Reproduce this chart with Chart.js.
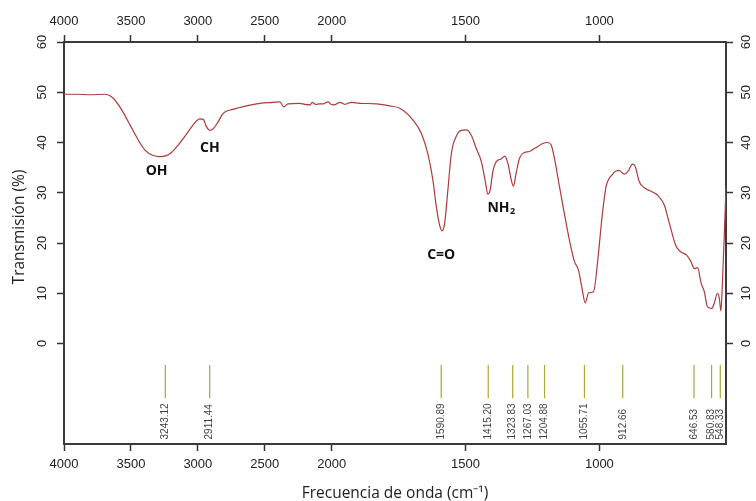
<!DOCTYPE html>
<html>
<head>
<meta charset="utf-8">
<script src="https://cdn.jsdelivr.net/npm/chart.js@4.4.1/dist/chart.umd.min.js"></script>
<style>
  html, body { margin: 0; padding: 0; background: #fff; }
  canvas { display: block; }
</style>
</head>
<body>
<canvas id="ftir" width="756" height="501"></canvas>
<script>
// FTIR spectrum, wavenumber (cm-1) and transmission (%)
var wavenumbers = [4000, 3900, 3800, 3694, 3632, 3569, 3507, 3445, 3395, 3333, 3284, 3234, 3197, 3147, 3084,
    3035, 2985, 2960, 2935, 2910, 2886, 2849, 2811, 2737, 2637, 2537, 2438, 2388, 2358, 2326, 2239, 2200,
    2160, 2147, 2120, 2090, 2060, 2028, 2005, 1989, 1970, 1951, 1926, 1895, 1833, 1784, 1746, 1697, 1665,
    1641, 1622, 1609, 1597, 1588, 1578, 1566, 1553, 1535, 1516, 1497, 1479, 1460, 1441, 1425, 1417, 1408,
    1398, 1385, 1367, 1354, 1342, 1329, 1321, 1311, 1298, 1280, 1261, 1249, 1230, 1212, 1193, 1180, 1168,
    1149, 1131, 1112, 1093, 1078, 1066, 1053, 1040, 1022, 1006, 990, 975, 965, 950, 944, 932, 925, 913,
    907, 894, 876, 866, 851, 832, 807, 782, 757, 745, 732, 714, 695, 674, 658, 645, 633, 620, 608, 596,
    580, 571, 559, 552, 546, 540, 534, 527];
var transmission = [49.6, 49.6, 49.5, 49.6, 48.8, 46.5, 43.5, 40.5, 38.5, 37.4, 37.2, 37.4, 38.0, 39.5, 41.7,
    43.5, 44.7, 44.6, 43.1, 42.4, 42.7, 44.1, 45.8, 46.6, 47.3, 47.8, 48.0, 48.1, 47.1, 47.7, 47.8, 47.6,
    47.5, 48.0, 47.6, 47.7, 47.7, 48.1, 47.6, 47.5, 48.0, 47.6, 48.0, 47.8, 47.7, 47.3, 46.8, 44.5, 41.8,
    37.8, 32.5, 27.2, 23.6, 22.4, 23.9, 30.5, 37.8, 41.2, 42.4, 42.5, 41.5, 38.8, 36.2, 31.9, 29.7, 30.5,
    34.2, 36.2, 36.7, 37.3, 35.9, 32.5, 31.3, 33.9, 36.9, 38.0, 38.2, 38.6, 39.2, 39.8, 40.0, 39.5, 36.9,
    31.2, 25.9, 20.6, 16.3, 14.6, 11.3, 8.1, 10.1, 10.3, 16.6, 25.2, 31.2, 32.7, 33.7, 34.1, 34.4, 34.4, 33.9,
    33.7, 34.2, 35.7, 35.2, 32.2, 31.0, 30.3, 29.5, 27.5, 25.2, 22.6, 19.4, 18.2, 17.6, 16.3, 14.9, 15.1, 12.0,
    10.3, 7.3, 7.0, 8.0, 10.0, 9.0, 6.5, 12.6, 20.6, 31.2];

var peakPositions = [3243.12, 2911.44, 1590.89, 1415.20, 1323.83, 1267.03, 1204.88, 1055.71, 912.66, 646.53, 580.83, 548.33];
var peakLabels = ['3243.12', '2911.44', '1590.89', '1415.20', '1323.83', '1267.03', '1204.88', '1055.71', '912.66', '646.53', '580.83', '548.33'];

var groupNames = ['OH', 'CH', 'C=O', 'NH'];
var groupWavenumbers = [3308, 2910, 1591, 1418];
var groupTransmission = [34.3, 39.0, 17.7, 27.0];

var xTicks = [4000, 3500, 3000, 2500, 2000, 1500, 1000];
var yTicks = [0, 10, 20, 30, 40, 50, 60];

// the wavenumber axis is compressed by half above 2000 cm-1
function toPos(w) { return w >= 2000 ? (4000 - w) / 2 : 1000 + (2000 - w); }
function toWn(p) { return p <= 1000 ? 4000 - 2 * p : 2000 - (p - 1000); }

var spectrum = wavenumbers.map(function (w, i) { return { x: toPos(w), y: transmission[i] }; });
var markLines = [];
peakPositions.forEach(function (w) {
    markLines.push({ x: toPos(w), y: -4.3 });
    markLines.push({ x: toPos(w), y: -10.9 });
    markLines.push({ x: toPos(w), y: null });
});

var tickFont = { family: 'Liberation Sans', size: 13 };

function xAxis(position, height) {
    return {
        type: 'linear',
        position: position,
        min: 0,
        max: toPos(527),
        afterBuildTicks: function (scale) {
            scale.ticks = xTicks.map(function (w) { return { value: toPos(w) }; });
        },
        afterFit: function (scale) { scale.height = height; },
        ticks: {
            font: tickFont,
            color: '#222',
            padding: 6,
            maxRotation: 0,
            autoSkip: false,
            callback: function (v) { return String(Math.round(toWn(v))); }
        },
        grid: { drawOnChartArea: false, drawTicks: true, tickLength: 7, tickColor: '#333', tickWidth: 1.5 },
        border: { color: '#3a3a3a', width: 2 }
    };
}

function yAxis(position, width, pad) {
    return {
        type: 'linear',
        position: position,
        min: -20,
        max: 60,
        afterBuildTicks: function (scale) {
            scale.ticks = yTicks.map(function (v) { return { value: v }; });
        },
        afterFit: function (scale) { scale.width = width; },
        ticks: {
            font: tickFont,
            color: '#222',
            padding: pad,
            minRotation: 90,
            maxRotation: 90,
            crossAlign: 'center',
            autoSkip: false
        },
        grid: { drawOnChartArea: false, drawTicks: true, tickLength: 7, tickColor: '#333', tickWidth: 1.5 },
        border: { color: '#3a3a3a', width: 2 }
    };
}

var labelsPlugin = {
    id: 'ftirLabels',
    afterDatasetsDraw: function (chart) {
        var ctx = chart.ctx, area = chart.chartArea;
        var xs = chart.scales.x, ys = chart.scales.y;

        // peak position labels
        ctx.save();
        ctx.beginPath();
        ctx.rect(area.left, area.top, area.right - area.left, area.bottom - area.top);
        ctx.clip();
        ctx.font = '10px "Liberation Sans"';
        ctx.fillStyle = '#444';
        ctx.textAlign = 'left';
        ctx.textBaseline = 'middle';
        peakPositions.forEach(function (w, i) {
            ctx.save();
            ctx.translate(xs.getPixelForValue(toPos(w)), ys.getPixelForValue(-19.1));
            ctx.rotate(-Math.PI / 2);
            ctx.fillText(peakLabels[i], 0, 0);
            ctx.restore();
        });
        ctx.restore();

        // functional group labels
        ctx.save();
        ctx.fillStyle = '#111';
        ctx.textBaseline = 'middle';
        groupNames.forEach(function (name, i) {
            var px = xs.getPixelForValue(toPos(groupWavenumbers[i]));
            var py = ys.getPixelForValue(groupTransmission[i]);
            ctx.font = 'bold 14px "Open Sans"';
            if (name === 'NH') {
                ctx.textAlign = 'left';
                ctx.fillText(name, px, py);
                var wNH = ctx.measureText(name).width;
                ctx.font = 'bold 9px "Open Sans"';
                ctx.fillText('2', px + wNH + 0.5, py + 4);
            } else {
                ctx.textAlign = 'center';
                ctx.fillText(name, px, py);
            }
        });
        ctx.restore();

        // y axis title
        ctx.save();
        ctx.font = '15.5px "Open Sans"';
        ctx.fillStyle = '#222';
        ctx.textAlign = 'center';
        ctx.textBaseline = 'middle';
        ctx.translate(20, area.top + 185);
        ctx.rotate(-Math.PI / 2);
        ctx.fillText('Transmisión (%)', 0, 0);
        ctx.restore();
    }
};

var chart = new Chart(document.getElementById('ftir'), {
    type: 'line',
    data: {
        datasets: [
            {
                data: spectrum,
                borderColor: '#b03a3a',
                borderWidth: 1.2,
                pointRadius: 0,
                cubicInterpolationMode: 'monotone',
                xAxisID: 'x',
                yAxisID: 'y'
            },
            {
                data: markLines,
                borderColor: 'rgb(168,168,60)',
                borderWidth: 1.2,
                pointRadius: 0,
                spanGaps: false,
                xAxisID: 'x',
                yAxisID: 'y'
            }
        ]
    },
    options: {
        responsive: false,
        animation: false,
        layout: { padding: 0 },
        plugins: { legend: { display: false }, tooltip: { enabled: false } },
        scales: {
            x: Object.assign(xAxis('bottom', 57), {
                title: {
                    display: true,
                    text: 'Frecuencia de onda (cm⁻¹)',
                    font: { family: 'Open Sans', size: 15.5, lineHeight: 1 },
                    color: '#222',
                    padding: { top: 0, bottom: 0 }
                }
            }),
            x2: xAxis('top', 42),
            y: yAxis('left', 64, 7),
            y2: yAxis('right', 30, 6)
        }
    },
    plugins: [labelsPlugin]
});
</script>
</body>
</html>
